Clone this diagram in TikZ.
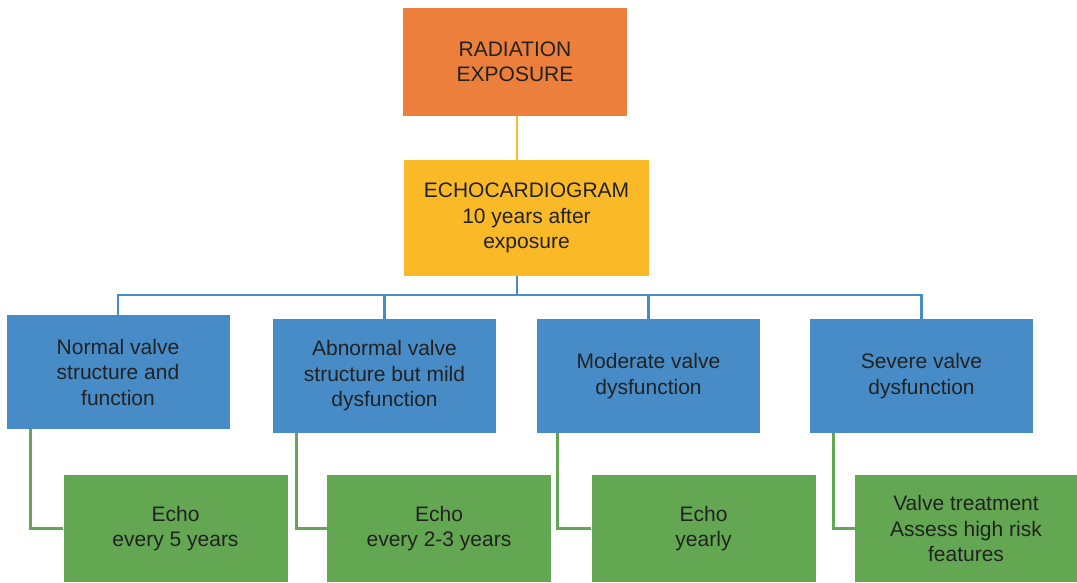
\documentclass[tikz,border=0pt]{standalone}
\usepackage{fontspec}
\setmainfont{Liberation Sans}
\usetikzlibrary{calc,backgrounds}
\definecolor{boxorange}{HTML}{EC7F3B}
\definecolor{boxgold}{HTML}{FAB926}
\definecolor{boxblue}{HTML}{478CC7}
\definecolor{boxgreen}{HTML}{63A752}
\definecolor{inktext}{HTML}{222222}
\tikzset{
  card/.style={inner sep=0pt, align=center, text=inktext,
    font=\fontsize{21}{25.5}\selectfont},
  orangecard/.style={card, fill=boxorange},
  goldcard/.style={card, fill=boxgold},
  bluecard/.style={card, fill=boxblue, minimum width=223pt, minimum height=114pt},
  greencard/.style={card, fill=boxgreen, minimum width=224pt, minimum height=107pt},
  goldlink/.style={draw=boxgold, line width=2.6pt},
  bluelink/.style={draw=boxblue, line width=2.8pt},
  greenlink/.style={draw=boxgreen, line width=2.8pt},
}
\begin{document}
\begin{tikzpicture}[x=1pt,y=-1pt]
\useasboundingbox (0,0) rectangle (1077,582);

% top of the tree
\node[orangecard, minimum width=224pt, minimum height=108pt] (rad) at (515,62)
  {RADIATION\\EXPOSURE};
\node[goldcard, minimum width=245pt, minimum height=116pt] (echo) at (526.5,218)
  {ECHOCARDIOGRAM\\10 years after\\exposure};

% findings
\node[bluecard] (b1) at (118,372)   {Normal valve\\structure and\\function};
\node[bluecard] (b2) at (384.5,376) {Abnormal valve\\structure but mild\\dysfunction};
\node[bluecard] (b3) at (648.5,376) {Moderate valve\\dysfunction};
\node[bluecard] (b4) at (921.5,376) {Severe valve\\dysfunction};

% follow-up actions
\node[greencard] (g1) at (175.5,528.5) {Echo\\every 5 years};
\node[greencard] (g2) at (439,528.5)   {Echo\\every 2-3 years};
\node[greencard] (g3) at (703.5,528.5) {Echo\\yearly};
\node[greencard, minimum width=222pt] (g4) at (966,528.5)
  {Valve treatment\\Assess high risk\\features};

\coordinate (bus) at (0,295);
\coordinate (trunk) at ($(rad.south)+(2,0)$);

\begin{scope}[on background layer]
  \draw[goldlink] (trunk) -- (trunk |- echo.north);
  \draw[bluelink] (trunk |- echo.south) -- (trunk |- bus);
  \draw[bluelink] (b1.north) |- (bus -| b4.north) -- (b4.north);
  \draw[bluelink] (bus -| b2.north) -- (b2.north);
  \draw[bluelink] (bus -| b3.north) -- (b3.north);
  \draw[greenlink] ($(b1.south west)+(24,0)$) |- (g1.west);
  \draw[greenlink] ($(b2.south west)+(24,0)$) |- (g2.west);
  \draw[greenlink] ($(b3.south west)+(21,0)$) |- (g3.west);
  \draw[greenlink] ($(b4.south west)+(24,0)$) |- (g4.west);
\end{scope}
\end{tikzpicture}
\end{document}
